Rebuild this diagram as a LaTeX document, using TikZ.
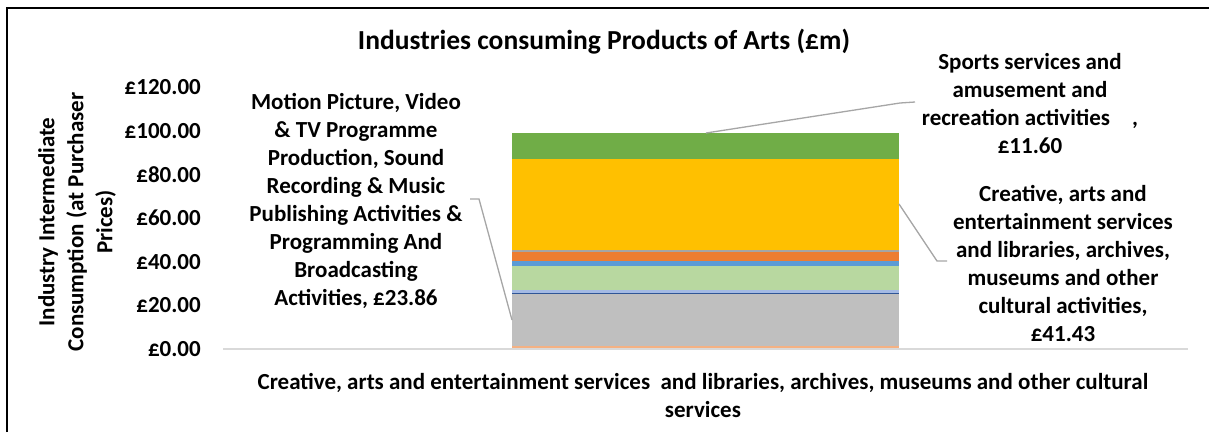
\documentclass[tikz,border=0pt]{standalone}
\usepackage{fontspec}
\setmainfont{Carlito}
\usepackage{xcolor}
\definecolor{sportgreen}{HTML}{70AD47}
\definecolor{artyellow}{HTML}{FFC000}
\definecolor{thingray}{HTML}{A5A5A5}
\definecolor{artorange}{HTML}{ED7D31}
\definecolor{midblue}{HTML}{5B9BD5}
\definecolor{palegreen}{HTML}{B8D8A0}
\definecolor{lavender}{HTML}{A4BAE4}
\definecolor{darkblue}{HTML}{2F5597}
\definecolor{bargray}{HTML}{BFBFBF}
\definecolor{paleorange}{HTML}{F4B183}
\definecolor{leadgray}{HTML}{A6A6A6}
\definecolor{axisgray}{HTML}{D9D9D9}

\tikzset{
  lbl/.style={font=\bfseries\fontsize{23bp}{28bp}\selectfont, align=center, inner sep=0pt},
  ticklbl/.style={font=\bfseries\fontsize{23bp}{28bp}\selectfont, anchor=east, inner sep=0pt},
  leader/.style={draw=leadgray, line width=1.3bp},
}

\begin{document}
\begin{tikzpicture}[x=1bp,y=-1bp]
        \fill[white, use as bounding box] (0,0) rectangle (1209,432);
        % Draw the chart frame
        \draw[line width=2.2bp] (7,432) -- (7,8) -- (1209,8);
        \node[lbl, font=\bfseries\fontsize{27.5bp}{33bp}\selectfont] (title) at (604,42) {Industries consuming Products of Arts (£m)};
        % Draw the stacked bar
        \foreach \ytop/\ybot/\col in {346/349/paleorange, 294/346/bargray, 293/294/darkblue,
            290/293/lavender, 266/290/palegreen, 261.3/266/midblue, 251.7/261.3/artorange,
            249.7/251.7/thingray, 159/249.7/artyellow, 133/159/sportgreen}
          \fill[\col] (512,\ybot) rectangle (899,\ytop);
        % Draw the axis and its labels
        \draw[axisgray, line width=1.3bp] (223,349) -- (1188,349);
        \foreach \v/\lab in {0/£0.00, 20/£20.00, 40/£40.00, 60/£60.00, 80/£80.00, 100/£100.00, 120/£120.00}
          \node[ticklbl] (tick\v) at (201,{349-2.1835*\v}) {\lab};
        \node[lbl, rotate=90, font=\bfseries\fontsize{23bp}{29bp}\selectfont] (ytitle) at (77,222) {Industry Intermediate\\Consumption (at Purchaser\\Prices)};
        \node[lbl] (xtitle) at (703,395) {Creative, arts and entertainment services\ \ and libraries, archives, museums and other cultural\\services};
        % Data labels
        \node[lbl] (motion) at (356,201) {Motion Picture, Video\\\& TV Programme\\Production, Sound\\Recording \& Music\\Publishing Activities \&\\Programming And\\Broadcasting\\Activities, £23.86};
        \node[lbl] (sports) at (1030,104) {Sports services and\\amusement and\\recreation activities\hspace{22bp},\\£11.60};
        \node[lbl] (creative) at (1063,263) {Creative, arts and\\entertainment services\\and libraries, archives,\\museums and other\\cultural activities,\\£41.43};
        % Leader lines
        \coordinate (motionend) at (470,199);
        \coordinate (barleft) at (512,320);
        \coordinate (sportsend) at (915,102);
        \coordinate (bartop) at (706,133);
        \coordinate (creativeend) at (947,261);
        \coordinate (barright) at (899,204);
        \draw[leader] (motionend) -- ++(9,0) -- (barleft);
        \draw[leader] (sportsend) -- ++(-15,1) -- (bartop);
        \draw[leader] (creativeend) -- ++(-10,0) -- (barright);
    \end{tikzpicture}
\end{document}
